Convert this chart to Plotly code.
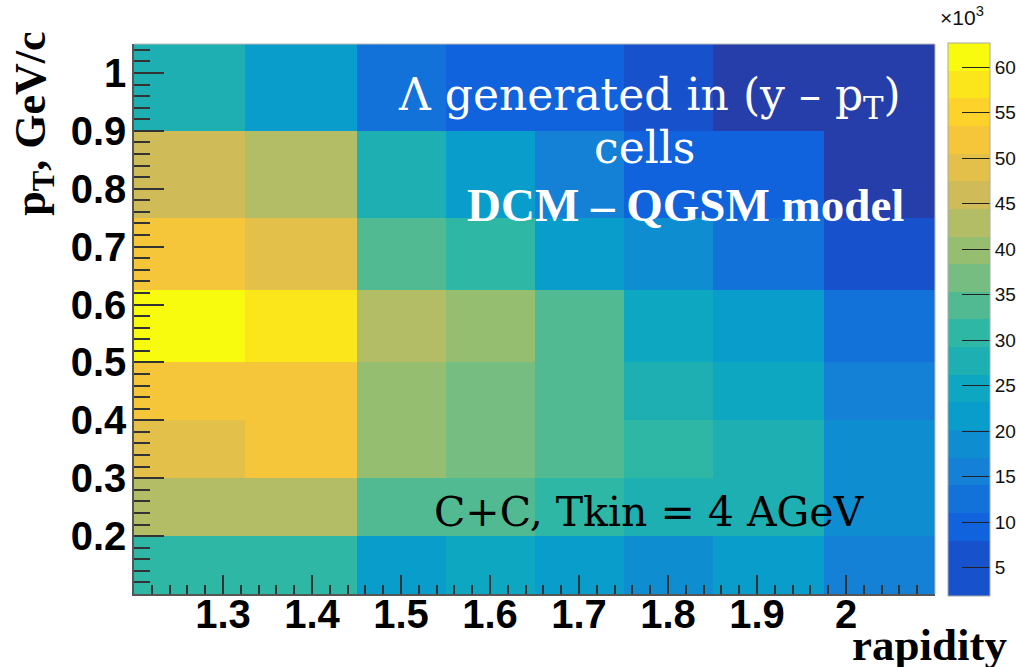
import plotly.graph_objects as go

# Bin edges (rapidity, pT)
y_edges_rap = [1.2, 1.325, 1.45, 1.55, 1.65, 1.75, 1.85, 1.975, 2.1]
pt_edges = [0.1, 0.2, 0.3, 0.4, 0.5, 0.625, 0.75, 0.9, 1.05]

# Counts (thousands), rows from lowest pT to highest pT
row_01_02 = [30.8, 30.6, 21.7, 24.7, 21.5, 18.7, 21.9, 15.6]
row_02_03 = [42.9, 42.7, 33.8, 33.5, 30.8, 27.8, 27.6, 18.7]
row_03_04 = [49.0, 52.1, 39.9, 36.9, 33.8, 30.8, 27.8, 18.5]
row_04_05 = [52.0, 52.2, 39.8, 36.8, 33.6, 27.7, 24.7, 15.6]
row_05_06 = [62.7, 58.1, 42.9, 39.9, 33.8, 24.7, 21.7, 12.6]
row_06_07 = [52.1, 49.0, 33.8, 30.8, 21.7, 18.7, 12.6, 6.5]
row_07_09 = [46.0, 42.9, 27.8, 21.7, 15.6, 9.5, 9.4, 3.5]
row_09_10 = [27.8, 21.7, 12.6, 9.5, 9.6, 6.5, 3.2, 1.95]

cbar_ticks = [5, 10, 15, 20, 25, 30, 35, 40, 45, 50, 55, 60]
x_ticks = [1.3, 1.4, 1.5, 1.6, 1.7, 1.8, 1.9, 2.0]
x_ticklabels = ["1.3", "1.4", "1.5", "1.6", "1.7", "1.8", "1.9", "2"]
y_ticks = [0.2, 0.3, 0.4, 0.5, 0.6, 0.7, 0.8, 0.9, 1.0]
y_ticklabels = ["0.2", "0.3", "0.4", "0.5", "0.6", "0.7", "0.8", "0.9", "1"]

rows = [row_01_02, row_02_03, row_03_04, row_04_05, row_05_06, row_06_07, row_07_09, row_09_10]
z = [[v * 1000 for v in r] for r in rows]
zmin = min(min(r) for r in z)
zmax = max(max(r) for r in z)

# ROOT kBird palette, 20 discrete contour levels
stops = [0.0, 0.125, 0.25, 0.375, 0.5, 0.625, 0.75, 0.875, 1.0]
red = [0.2082, 0.0592, 0.0780, 0.0232, 0.1802, 0.5301, 0.8186, 0.9956, 0.9764]
green = [0.1664, 0.3599, 0.5041, 0.6419, 0.7178, 0.7492, 0.7328, 0.7862, 0.9832]
blue = [0.5293, 0.8684, 0.8385, 0.7914, 0.6425, 0.4662, 0.3499, 0.1968, 0.0539]


def bird(f):
    for k in range(len(stops) - 1):
        if f <= stops[k + 1]:
            t = (f - stops[k]) / (stops[k + 1] - stops[k])
            r = red[k] + (red[k + 1] - red[k]) * t
            g = green[k] + (green[k + 1] - green[k]) * t
            b = blue[k] + (blue[k + 1] - blue[k]) * t
            return "rgb(%d,%d,%d)" % (round(r * 255), round(g * 255), round(b * 255))
    return "rgb(249,251,14)"


nlev = 20
level_colors = [bird(min((i + 0.99) / nlev, 1.0)) for i in range(nlev)]


def make_scale(colors):
    out = []
    for i, c in enumerate(colors):
        out.append([i / nlev, c])
        out.append([(i + 1) / nlev, c])
    return out


cs = make_scale(level_colors)
# palette box as drawn by ROOT: lowest band painted with the next colour
cs_bar = make_scale([level_colors[1]] + level_colors[1:])

fig = go.Figure()
fig.add_trace(go.Heatmap(
    x=y_edges_rap, y=pt_edges, z=z,
    zmin=zmin, zmax=zmax, colorscale=cs,
    hoverinfo="skip", showscale=False,
))
fig.add_trace(go.Scatter(
    x=[None], y=[None], mode="markers", hoverinfo="skip",
    marker=dict(
        color=[zmin, zmax], cmin=zmin, cmax=zmax, colorscale=cs_bar, showscale=True,
        colorbar=dict(
            x=1.0162, xanchor="left", xref="paper",
            y=0.5, yanchor="middle", len=1.005, lenmode="fraction",
            thickness=42, thicknessmode="pixels",
            outlinewidth=1, outlinecolor="#aaaaaa",
            tickvals=[v * 1000 for v in cbar_ticks],
            ticktext=[str(v) for v in cbar_ticks],
            ticks="inside", ticklen=28, tickcolor="#222222", tickwidth=1,
            tickfont=dict(family="Liberation Sans", size=19, color="#111111"),
            xpad=0, ypad=0,
        ),
    ),
))

fig.update_xaxes(
    range=[1.2, 2.1], tickvals=x_ticks, ticktext=x_ticklabels,
    ticks="inside", ticklen=19, tickcolor="#333333", tickwidth=1.5,
    tickfont=dict(family="Liberation Sans", size=40, color="black", weight="bold"),
    ticklabelstandoff=-16,
    minor=dict(dtick=0.02, tick0=1.2, ticks="inside", ticklen=9, tickcolor="#333333", tickwidth=1.5),
    showline=True, linecolor="#555555", linewidth=1.5, mirror=False,
    showgrid=False, zeroline=False,
)
fig.update_yaxes(
    range=[0.1, 1.05], tickvals=y_ticks, ticktext=y_ticklabels,
    ticks="inside", ticklen=30, tickcolor="#333333", tickwidth=1.5,
    tickfont=dict(family="Liberation Sans", size=40, color="black", weight="bold"),
    ticklabelstandoff=-2,
    minor=dict(dtick=0.02, tick0=0.1, ticks="inside", ticklen=16, tickcolor="#333333", tickwidth=1.5),
    showline=True, linecolor="#555555", linewidth=1.5, mirror=False,
    showgrid=False, zeroline=False,
)

# light frame on top / right
fig.add_shape(type="line", xref="paper", yref="paper", x0=0, x1=1, y0=1, y1=1,
              line=dict(color="#bbbbbb", width=1))
fig.add_shape(type="line", xref="paper", yref="paper", x0=1, x1=1, y0=0, y1=1,
              line=dict(color="#bbbbbb", width=1))

annots = [
    dict(text="Λ generated in (y – p<sub>T</sub>)", x=0.643, y=0.9036,
         font=dict(family="DejaVu Serif", size=44, color="white")),
    dict(text="cells", x=0.637, y=0.811,
         font=dict(family="DejaVu Serif", size=44, color="white")),
    dict(text="DCM – QGSM model", x=0.688, y=0.707,
         font=dict(family="Liberation Serif", size=47, color="white", weight="bold")),
    dict(text="C+C, Tkin = 4 AGeV", x=0.644, y=0.149,
         font=dict(family="DejaVu Serif", size=41, color="black")),
    dict(text="×10<sup>3</sup>", x=1.034, y=1.05,
         font=dict(family="Liberation Sans", size=21, color="#111111")),
    dict(text="rapidity", x=1.0936, y=-0.093, xanchor="right",
         font=dict(family="Liberation Serif", size=45, color="black", weight="bold")),
    dict(text="p<sub>T</sub>, GeV/c", x=-0.125, y=1.0255, yanchor="top", textangle=-90,
         font=dict(family="Liberation Serif", size=44, color="black", weight="bold")),
]
for a in annots:
    a.setdefault("xanchor", "center")
    a.setdefault("yanchor", "middle")
    fig.add_annotation(xref="paper", yref="paper", showarrow=False, **a)

fig.update_layout(
    width=1016, height=667,
    margin=dict(l=134, r=81, t=44, b=73, autoexpand=False),
    paper_bgcolor="white", plot_bgcolor="white",
    showlegend=False,
)

fig.write_html("out.html")
